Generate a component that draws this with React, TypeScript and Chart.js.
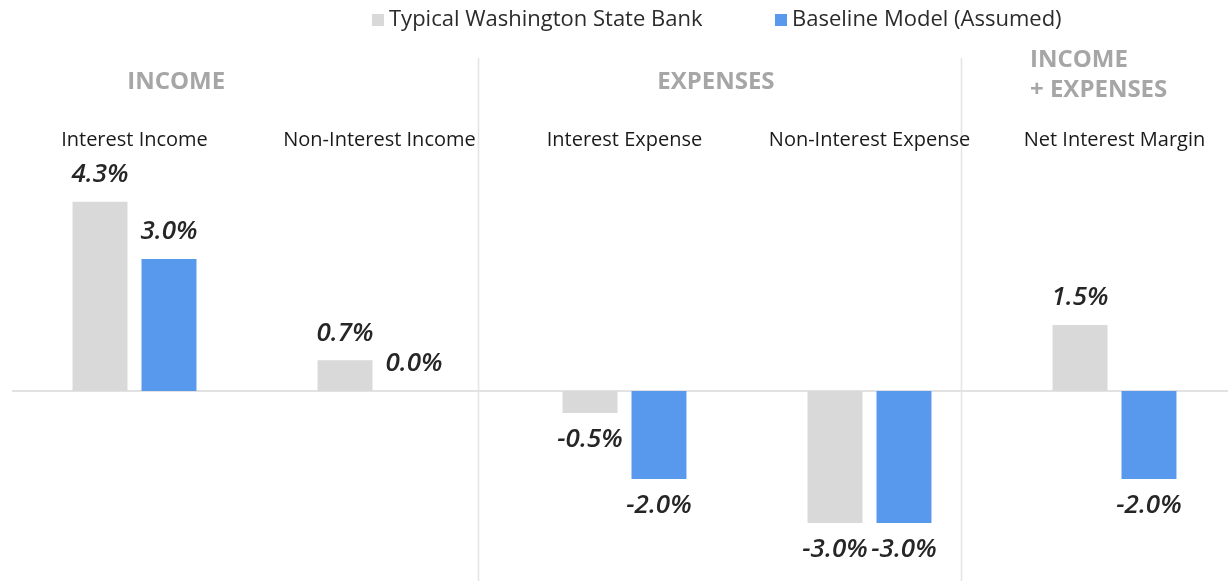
import React, { useEffect, useRef } from "react";
import { Chart, registerables } from "chart.js";

Chart.register(...registerables);

const categories = [
  "Interest Income",
  "Non-Interest Income",
  "Interest Expense",
  "Non-Interest Expense",
  "Net Interest Margin",
];
const seriesNames = ["Typical Washington State Bank", "Baseline Model (Assumed)"];
const typicalValues = [4.3, 0.7, -0.5, -3.0, 1.5];
const baselineValues = [3.0, 0.0, -2.0, -3.0, -2.0];
const groupHeaders = [
  { lines: ["INCOME"], at: 0.17, align: "center" },
  { lines: ["EXPENSES"], at: 2.373, align: "center" },
  { lines: ["INCOME", "+ EXPENSES"], at: 3.655, align: "left" },
];
const separatorsAt = [1.4, 3.375];

const GRAY = "#D9D9D9";
const BLUE = "#5899ED";

const decorPlugin = {
  id: "decor",
  beforeDatasetsDraw(chart: any) {
    const { ctx } = chart;
    const x = chart.scales.x;
    const y = chart.scales.y;
    ctx.save();
    // zero line
    const y0 = y.getPixelForValue(0);
    ctx.strokeStyle = "#D9D9D9";
    ctx.lineWidth = 1.5;
    ctx.beginPath();
    ctx.moveTo(chart.chartArea.left, y0);
    ctx.lineTo(chart.width, y0);
    ctx.stroke();
    // separators
    ctx.strokeStyle = "#E4E4E4";
    ctx.lineWidth = 1.5;
    separatorsAt.forEach((s) => {
      const px = Math.round(x.getPixelForValue(s)) + 0.5;
      ctx.beginPath();
      ctx.moveTo(px, 58);
      ctx.lineTo(px, chart.height);
      ctx.stroke();
    });
    // group headers
    ctx.fillStyle = "#A6A6A6";
    ctx.font = "bold 24px 'Open Sans'";
    ctx.textBaseline = "middle";
    groupHeaders.forEach((g) => {
      const px = x.getPixelForValue(g.at);
      ctx.textAlign = g.align as CanvasTextAlign;
      if (g.lines.length === 1) {
        ctx.fillText(g.lines[0], px, 82);
      } else {
        g.lines.forEach((l, i) => ctx.fillText(l, px, 60 + i * 30));
      }
    });
    // category labels
    ctx.fillStyle = "#1A1A1A";
    ctx.font = "20px 'Open Sans'";
    ctx.textAlign = "center";
    categories.forEach((c, i) => {
      ctx.fillText(c, x.getPixelForValue(i), 140);
    });
    // legend
    ctx.font = "22px 'Open Sans'";
    ctx.textAlign = "left";
    const legendPos = [372, 775];
    chart.data.datasets.forEach((ds: any, i: number) => {
      const lx = legendPos[i];
      ctx.fillStyle = ds.backgroundColor;
      ctx.fillRect(lx, 14, 12, 12);
      ctx.fillStyle = "#2B2B2B";
      ctx.fillText(ds.label, lx + 17, 20);
    });
    ctx.restore();
  },
  afterDatasetsDraw(chart: any) {
    const { ctx } = chart;
    ctx.save();
    ctx.font = "italic 600 26px 'Open Sans'";
    ctx.fillStyle = "#262626";
    ctx.textAlign = "center";
    ctx.textBaseline = "middle";
    chart.data.datasets.forEach((ds: any, di: number) => {
      const meta = chart.getDatasetMeta(di);
      meta.data.forEach((bar: any, i: number) => {
        const v = ds.data[i];
        const ty = v >= 0 ? bar.y - 27 : bar.y + 27;
        ctx.fillText(v.toFixed(1) + "%", bar.x, ty);
      });
    });
    ctx.restore();
  },
};

export default function App() {
  const ref = useRef<HTMLCanvasElement | null>(null);
  useEffect(() => {
    document.body.style.margin = "0";
    const chart = new Chart(ref.current as HTMLCanvasElement, {
      type: "bar",
      data: {
        labels: categories,
        datasets: [
          {
            label: seriesNames[0],
            data: typicalValues,
            backgroundColor: GRAY,
            categoryPercentage: 0.563,
            barPercentage: 0.797,
          },
          {
            label: seriesNames[1],
            data: baselineValues,
            backgroundColor: BLUE,
            categoryPercentage: 0.563,
            barPercentage: 0.797,
          },
        ],
      },
      options: {
        responsive: false,
        animation: false,
        layout: { padding: { left: 12, right: 0, top: 171, bottom: 14 } },
        plugins: { legend: { display: false }, tooltip: { enabled: false } },
        scales: {
          x: { display: false },
          y: { display: false, min: -4, max: 5 },
        },
      },
      plugins: [decorPlugin],
    });
    return () => chart.destroy();
  }, []);
  return (
    <div
      style={{
        position: "fixed",
        left: 0,
        top: 0,
        width: 1228,
        height: 581,
        overflow: "hidden",
        background: "#fff",
      }}
    >
      <canvas ref={ref} width={1237} height={581} style={{ width: 1237, height: 581 }} />
    </div>
  );
}
